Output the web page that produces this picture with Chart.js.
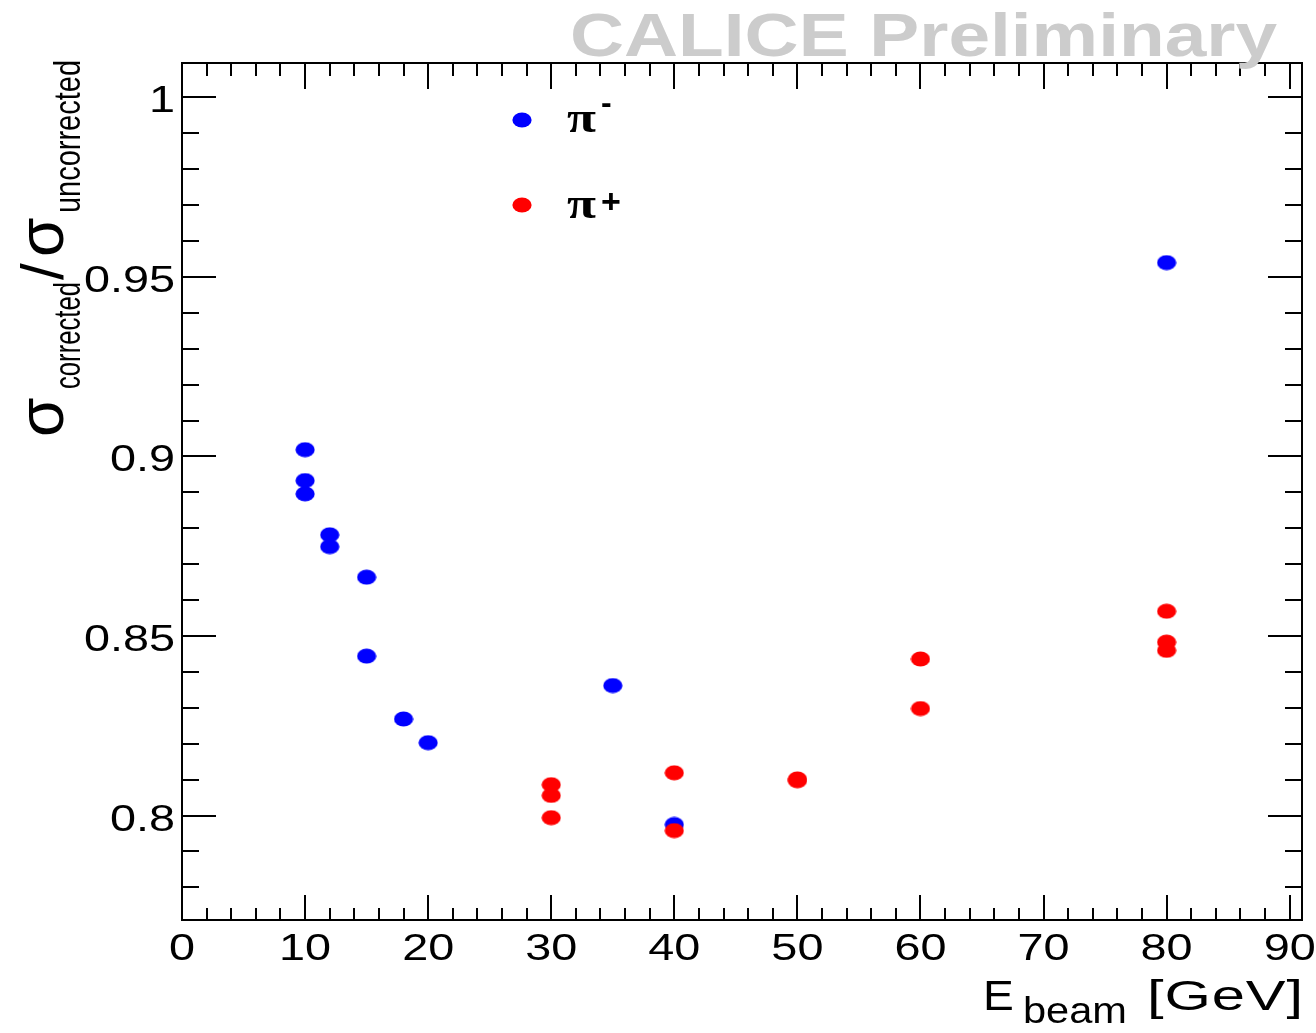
<!DOCTYPE html>
<html>
<head>
<meta charset="utf-8">
<style>
  html, body { margin: 0; padding: 0; background: #ffffff; }
  #wrap { width: 1316px; height: 1033px; }
</style>
<script src="https://cdn.jsdelivr.net/npm/chart.js@4.4.1/dist/chart.umd.min.js"></script>
</head>
<body>
<div id="wrap"><canvas id="c" width="1316" height="1033"></canvas></div>
<script>
// ---------------- data ----------------
const piMinusE = [10, 10, 10, 12, 12, 15, 15, 18, 20, 35, 40, 80];
const piMinusRatio = [0.9019, 0.8933, 0.8896, 0.8782, 0.8749, 0.8664, 0.8444, 0.8269, 0.8203, 0.8362, 0.7975, 0.9540];
const piPlusE = [30, 30, 30, 40, 40, 50, 50, 60, 60, 80, 80, 80];
const piPlusRatio = [0.8086, 0.8056, 0.7994, 0.8119, 0.7958, 0.8102, 0.8097, 0.8436, 0.8298, 0.8569, 0.8483, 0.8460];
const xTickLabels = [0, 10, 20, 30, 40, 50, 60, 70, 80, 90];
const yTickLabels = [0.8, 0.85, 0.9, 0.95, 1];
const xMinorStep = 2;
const yMinorStep = 0.01;
const seriesNames = ['π-', 'π+'];
const titleText = 'CALICE Preliminary';

// ---------------- marker images ----------------
function ellipseImg(color) {
  const c = document.createElement('canvas');
  c.width = 20; c.height = 16;
  const g = c.getContext('2d');
  g.fillStyle = color;
  g.beginPath();
  g.ellipse(10, 8, 9.6, 7.6, 0, 0, Math.PI * 2);
  g.fill();
  return c;
}
const blueDot = ellipseImg('#0000ff');
const redDot = ellipseImg('#ff0000');

function toXY(xs, ys) { return xs.map((x, i) => ({ x: x, y: ys[i] })); }

// text helper: horizontal stretch sx (or fit to width), optional spaced width
function drawText(ctx, s, x, y, font, o) {
  o = o || {};
  ctx.save();
  ctx.font = font;
  ctx.fillStyle = o.color || '#000';
  ctx.textAlign = 'left';
  ctx.textBaseline = 'alphabetic';
  const raw0 = ctx.measureText(s).width;
  const sx = o.fit ? o.fit / raw0 : (o.sx || 1);
  const chars = Array.from(s);
  const ws = chars.map(ch => ctx.measureText(ch).width * sx);
  const raw = raw0 * sx;
  let gap = 0;
  if (o.width && chars.length > 1) gap = (o.width - raw) / (chars.length - 1);
  const total = raw + gap * (chars.length - 1);
  let start = 0;
  if (o.align === 'center') start = -total / 2;
  else if (o.align === 'right') start = -total;
  ctx.translate(x, y);
  if (gap === 0) {
    ctx.translate(start, 0);
    ctx.scale(sx, 1);
    ctx.fillText(s, 0, 0);
  } else {
    let cx = start;
    chars.forEach((ch, i) => {
      ctx.save();
      ctx.translate(cx, 0);
      ctx.scale(sx, 1);
      ctx.fillText(ch, 0, 0);
      ctx.restore();
      cx += ws[i] + gap;
    });
  }
  ctx.restore();
  return total;
}

const framePlugin = {
  id: 'rootFrame',
  afterDraw(chart) {
    const ctx = chart.ctx;
    const a = chart.chartArea;
    const xs = chart.scales.x, ys = chart.scales.y;
    ctx.save();
    ctx.strokeStyle = '#000';
    ctx.lineWidth = 2;
    ctx.strokeRect(a.left, a.top, a.right - a.left, a.bottom - a.top);
    ctx.beginPath();
    // x ticks
    for (let v = 0; v <= xs.max + 1e-9; v += xMinorStep) {
      const px = Math.round(xs.getPixelForValue(v));
      const major = xTickLabels.some(t => Math.abs(t - v) < 1e-6);
      const lb = major ? 25 : 12;
      const lt = major ? 26 : 13;
      if (px <= a.left + 1 || px >= a.right - 1) continue;
      ctx.moveTo(px, a.bottom); ctx.lineTo(px, a.bottom - lb);
      ctx.moveTo(px, a.top); ctx.lineTo(px, a.top + lt);
    }
    // y ticks
    const y0 = Math.ceil(ys.min / yMinorStep - 1e-6);
    const y1 = Math.floor(ys.max / yMinorStep + 1e-6);
    for (let k = y0; k <= y1; k++) {
      const v = k * yMinorStep;
      const py = Math.round(ys.getPixelForValue(v));
      const major = yTickLabels.some(t => Math.abs(t - v) < 1e-6);
      const l = major ? 34 : 17;
      ctx.moveTo(a.left, py); ctx.lineTo(a.left + l, py);
      ctx.moveTo(a.right, py); ctx.lineTo(a.right - l, py);
    }
    ctx.stroke();
    ctx.restore();

    // tick labels
    const tf = '36px "Liberation Sans", Arial, sans-serif';
    xTickLabels.forEach(v => {
      drawText(ctx, String(v), xs.getPixelForValue(v), 960, tf, { sx: 1.3, align: 'center' });
    });
    yTickLabels.forEach(v => {
      const s = Number(v.toFixed(2)).toString();
      drawText(ctx, s, a.left - 7, ys.getPixelForValue(v) + 15, tf, { sx: 1.3, align: 'right' });
    });

    // x title: E_beam [GeV]
    drawText(ctx, 'E', 983, 1010, '42px "Liberation Sans", Arial, sans-serif', { sx: 1.1 });
    drawText(ctx, 'beam', 1023, 1023, '37px "Liberation Sans", Arial, sans-serif', { fit: 104 });
    drawText(ctx, '[GeV]', 1147, 1010, '42px "Liberation Sans", Arial, sans-serif', { sx: 1.42, width: 156 });

    // y title (rotated): sigma_corrected / sigma_uncorrected
    ctx.save();
    ctx.translate(63, 437);
    ctx.rotate(-Math.PI / 2);
    const big = '64px "Liberation Sans", Arial, sans-serif';
    const sub = '36px "Liberation Sans", Arial, sans-serif';
    drawText(ctx, 'σ', 0, 0, big, { sx: 1.0 });
    drawText(ctx, 'corrected', 48, 17, sub, { fit: 107 });
    drawText(ctx, '/', 157, 0, '60px "Liberation Sans", Arial, sans-serif', { sx: 1.0 });
    drawText(ctx, 'σ', 180, 0, big, { sx: 1.0 });
    drawText(ctx, 'uncorrected', 224, 17, sub, { fit: 153 });
    ctx.restore();

    // legend
    ctx.drawImage(blueDot, 512, 112);
    ctx.drawImage(redDot, 512, 197);
    const pf = 'bold 44px "Liberation Serif", "Times New Roman", serif';
    drawText(ctx, seriesNames[0].charAt(0), 567, 132, pf, { sx: 1.2 });
    drawText(ctx, '-', 601, 113, 'bold 32px "Liberation Sans", Arial, sans-serif', { sx: 1.0 });
    drawText(ctx, seriesNames[1].charAt(0), 567, 218, pf, { sx: 1.2 });
    drawText(ctx, '+', 601, 213, 'bold 34px "Liberation Sans", Arial, sans-serif', { sx: 1.0 });

    // title
    drawText(ctx, titleText, 570, 56, 'bold 62px "Liberation Sans", Arial, sans-serif', { fit: 707, color: '#cccccc' });
  }
};

new Chart(document.getElementById('c'), {
  type: 'scatter',
  data: {
    datasets: [
      { label: seriesNames[0], data: toXY(piMinusE, piMinusRatio), pointStyle: blueDot, order: 2,
        backgroundColor: '#0000ff', borderColor: '#0000ff' },
      { label: seriesNames[1], data: toXY(piPlusE, piPlusRatio), pointStyle: redDot, order: 1,
        backgroundColor: '#ff0000', borderColor: '#ff0000' }
    ]
  },
  options: {
    responsive: false,
    animation: false,
    devicePixelRatio: 1,
    layout: { padding: { left: 0, top: 63, right: 14, bottom: 0 } },
    plugins: { legend: { display: false }, tooltip: { enabled: false }, title: { display: false } },
    elements: { point: { radius: 8, hoverRadius: 8 } },
    scales: {
      x: {
        type: 'linear', min: 0, max: 91,
        ticks: { display: false, stepSize: 10, includeBounds: false },
        grid: { display: false, drawTicks: false },
        border: { display: false },
        afterFit(s) { s.height = 113; }
      },
      y: {
        type: 'linear', min: 0.7709, max: 1.0096,
        ticks: { display: false, stepSize: 0.05, includeBounds: false },
        grid: { display: false, drawTicks: false },
        border: { display: false },
        afterFit(s) { s.width = 182; }
      }
    }
  },
  plugins: [framePlugin]
});
</script>
</body>
</html>
